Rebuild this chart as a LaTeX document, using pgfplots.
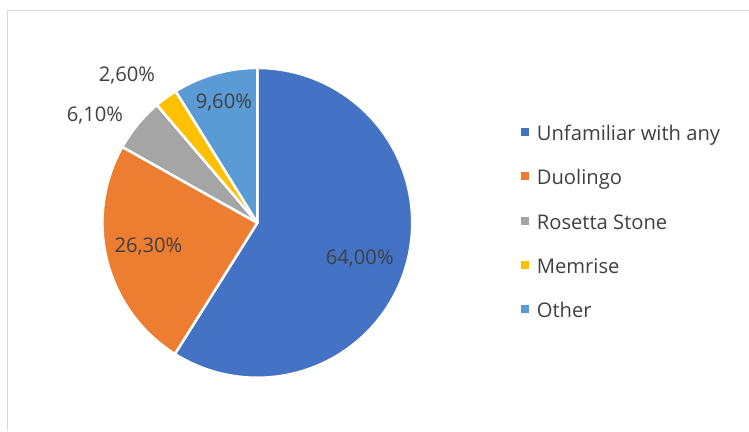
\documentclass[border=0pt]{standalone}
\usepackage{pgfplots}
\usepackage{pgfplotstable}
\pgfplotsset{compat=1.18}
\usepackage{fontspec}
\setmainfont{Open Sans}
\definecolor{cA}{HTML}{4472C4}
\definecolor{cB}{HTML}{ED7D31}
\definecolor{cC}{HTML}{A5A5A5}
\definecolor{cD}{HTML}{FFC000}
\definecolor{cE}{HTML}{5B9BD5}
\definecolor{lbl}{HTML}{404040}
\definecolor{frame}{HTML}{D9D9D9}
\pgfplotstableread{
name value
A 64.0
B 26.3
C 6.1
D 2.6
E 9.6
}\piedata
\pgfplotstablegetelem{0}{value}\of\piedata \let\vA\pgfplotsretval
\pgfplotstablegetelem{1}{value}\of\piedata \let\vB\pgfplotsretval
\pgfplotstablegetelem{2}{value}\of\piedata \let\vC\pgfplotsretval
\pgfplotstablegetelem{3}{value}\of\piedata \let\vD\pgfplotsretval
\pgfplotstablegetelem{4}{value}\of\piedata \let\vE\pgfplotsretval
\pgfmathsetmacro\tot{\vA+\vB+\vC+\vD+\vE}
\pgfmathsetmacro\aA{\vA/\tot*360}
\pgfmathsetmacro\aB{\aA+\vB/\tot*360}
\pgfmathsetmacro\aC{\aB+\vC/\tot*360}
\pgfmathsetmacro\aD{\aC+\vD/\tot*360}
\def\cx{257.5}
\def\cy{208}
\def\rr{155}
\newcommand\lblfont{\fontsize{20.2}{22}\selectfont}
\begin{document}
\begin{tikzpicture}
\begin{axis}[
  scale only axis, width=749pt, height=431pt,
  xmin=0, xmax=749, ymin=0, ymax=431,
  hide axis, clip=false,
  legend style={at={(axis cs:517,305)}, anchor=north west, draw=none, fill=none,
    font=\lblfont, text=lbl, row sep=26.5pt, inner sep=0pt,
    nodes={inner sep=0pt, text height=14pt, text depth=4pt},
    /tikz/every even column/.append style={column sep=0pt}},
  legend cell align=left,
  legend image code/.code={\path (0pt,0pt) rectangle (17.5pt,0pt);\fill[#1,draw=none] (3pt,-0.5pt) rectangle (11pt,7.5pt);},
]
\path (axis cs:0,0) rectangle (axis cs:749,431);
\draw[frame, line width=1pt] (axis cs:8,0) -- (axis cs:8,420) -- (axis cs:749,420);
\addplot[fill=cA, draw=white, line width=2.5pt, line join=round, domain=0:\aA, samples=120, variable=\t]
  ({\cx+\rr*sin(\t)},{\cy+\rr*cos(\t)}) -- (axis cs:\cx,\cy) -- cycle;
\addlegendentry{Unfamiliar with any}
\addplot[fill=cB, draw=white, line width=2.5pt, line join=round, domain=\aA:\aB, samples=60, variable=\t]
  ({\cx+\rr*sin(\t)},{\cy+\rr*cos(\t)}) -- (axis cs:\cx,\cy) -- cycle;
\addlegendentry{Duolingo}
\addplot[fill=cC, draw=white, line width=2.5pt, line join=round, domain=\aB:\aC, samples=20, variable=\t]
  ({\cx+\rr*sin(\t)},{\cy+\rr*cos(\t)}) -- (axis cs:\cx,\cy) -- cycle;
\addlegendentry{Rosetta Stone}
\addplot[fill=cD, draw=white, line width=2.5pt, line join=round, domain=\aC:\aD, samples=10, variable=\t]
  ({\cx+\rr*sin(\t)},{\cy+\rr*cos(\t)}) -- (axis cs:\cx,\cy) -- cycle;
\addlegendentry{Memrise}
\addplot[fill=cE, draw=white, line width=2.5pt, line join=round, domain=\aD:360, samples=30, variable=\t]
  ({\cx+\rr*sin(\t)},{\cy+\rr*cos(\t)}) -- (axis cs:\cx,\cy) -- cycle;
\addlegendentry{Other}
\begin{scope}[every node/.style={text=lbl, font=\lblfont, inner sep=0pt}]
\node at (axis cs:360,172.5) {64,00\%};
\node at (axis cs:148.5,184.5) {26,30\%};
\node at (axis cs:224,328) {9,60\%};
\node at (axis cs:95,315) {6,10\%};
\node at (axis cs:127,355) {2,60\%};
\end{scope}
\end{axis}
\end{tikzpicture}
\end{document}
